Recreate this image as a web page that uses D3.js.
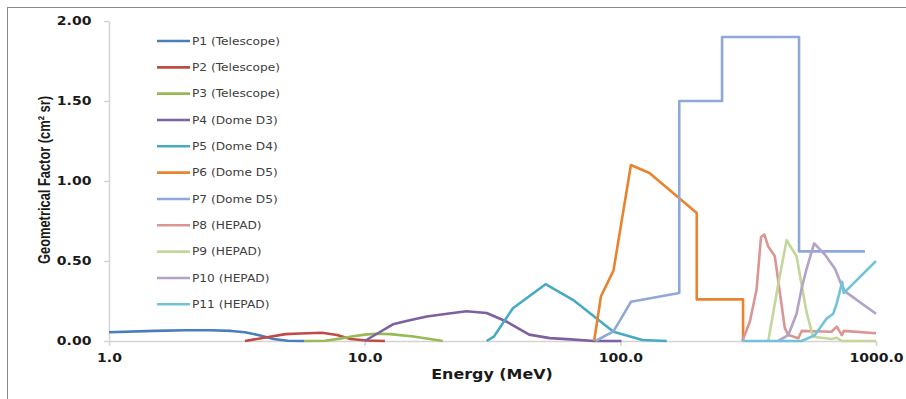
<!DOCTYPE html>
<html>
<head>
<meta charset="utf-8">
<script src="https://cdn.jsdelivr.net/npm/d3@7"></script>
<style>
  html, body { margin: 0; padding: 0; background: #ffffff; }
  svg { display: block; }
</style>
</head>
<body>
<script>
// ---------- DATA (Energy in MeV, Geometrical Factor in cm^2 sr) ----------
const seriesNames = [
  "P1 (Telescope)", "P2 (Telescope)", "P3 (Telescope)", "P4 (Dome D3)",
  "P5 (Dome D4)", "P6 (Dome D5)", "P7 (Dome D5)", "P8 (HEPAD)",
  "P9 (HEPAD)", "P10 (HEPAD)", "P11 (HEPAD)"
];
const p1 = [[1.0,0.055],[1.5,0.063],[2.0,0.067],[2.5,0.067],[3.0,0.063],[3.4,0.055],[3.9,0.035],[4.4,0.013],[5.0,0.002],[5.8,0.0]];
const p2 = [[3.4,0.0],[4.1,0.022],[4.9,0.043],[5.6,0.047],[6.8,0.052],[7.8,0.038],[8.8,0.013],[10.2,0.003],[12.0,0.0]];
const p3 = [[5.8,0.0],[7.0,0.002],[8.0,0.015],[8.9,0.028],[10.0,0.04],[11.1,0.045],[12.6,0.043],[15.5,0.028],[18.0,0.012],[20.2,0.0]];
const p4 = [[10.0,0.0],[11.3,0.05],[12.9,0.104],[15.0,0.13],[17.5,0.153],[21.0,0.17],[25.0,0.186],[30.0,0.175],[36.0,0.12],[44.0,0.04],[53.0,0.018],[64.0,0.01],[79.0,0.0],[101.0,0.0]];
const p5 = [[30.0,0.0],[32.0,0.027],[38.0,0.205],[51.0,0.355],[66.0,0.252],[94.0,0.058],[122.0,0.006],[152.0,0.0]];
const p6 = [[79,0.0],[84,0.28],[94,0.44],[110,1.1],[130,1.05],[199,0.8],[199,0.26],[302,0.26],[302,0.0]];
const p7 = [[80,0.0],[94,0.06],[110,0.245],[170,0.3],[170,1.5],[250,1.5],[250,1.9],[500,1.9],[500,0.56],[905,0.56]];
const p8 = [[300,0.0],[321,0.12],[341,0.32],[355,0.65],[366,0.665],[379,0.59],[402,0.53],[420,0.31],[440,0.08],[454,0.037],[497,0.017],[512,0.063],[670,0.058],[702,0.09],[735,0.037],[748,0.063],[1000,0.048]];
const p9 = [[379,0.0],[414,0.35],[447,0.63],[489,0.53],[512,0.35],[535,0.18],[567,0.027],[670,0.012],[702,0.02],[735,0.0],[1000,0.0]];
const p10 = [[414,0.0],[454,0.037],[489,0.17],[512,0.33],[535,0.45],[573,0.61],[631,0.54],[692,0.45],[729,0.36],[756,0.31],[1000,0.17]];
const p11 = [[300,0.0],[512,0.0],[577,0.037],[641,0.14],[680,0.17],[702,0.235],[722,0.31],[737,0.37],[748,0.30],[770,0.32],[1000,0.5]];
const seriesValues = [p1,p2,p3,p4,p5,p6,p7,p8,p9,p10,p11];
const xTickValues = [1, 10, 100, 1000];
const yTickValues = [0, 0.5, 1.0, 1.5, 2.0];
const xTitle = "Energy (MeV)";
const yTitle = "Geometrical Factor (cm² sr)";

// ---------- STYLE ----------
const colors = ["#4A7EBB","#BE4B48","#98B954","#7D60A0","#46AAC5","#E9832F",
                "#8EA9D8","#D99694","#C3D69B","#B3A2C7","#72C3DA"];
const W = 906, H = 399;
const plot = {left: 109, right: 876, top: 21, bottom: 341};
const SX = 1.17; // horizontal text stretch seen in the reference

const svg = d3.select("body").append("svg").attr("width", W).attr("height", H);

// outer frame
svg.append("rect").attr("x", 7.5).attr("y", 7.5).attr("width", 910).attr("height", 410)
  .attr("fill", "none").attr("stroke", "#8a8a8a").attr("stroke-width", 1);

const x = d3.scaleLog().domain([1, 1000]).range([plot.left, plot.right]);
const y = d3.scaleLinear().domain([0, 2]).range([plot.bottom, plot.top]);

// axes
const axisColor = "#d4d4d4";
const xAxis = svg.append("g").attr("transform", `translate(0,${plot.bottom})`)
  .call(d3.axisBottom(x).tickValues(xTickValues).tickFormat(d3.format(".1f"))
        .tickSize(5).tickSizeOuter(0).tickPadding(7));
const yAxis = svg.append("g").attr("transform", `translate(${plot.left},0)`)
  .call(d3.axisLeft(y).tickValues(yTickValues).tickFormat(d3.format(".2f"))
        .tickSize(5).tickSizeOuter(0).tickPadding(10));
[xAxis, yAxis].forEach(a => {
  a.select(".domain").attr("stroke", axisColor).attr("stroke-width", 1.5);
  a.selectAll(".tick line").attr("stroke", axisColor).attr("stroke-width", 1.5);
  a.selectAll(".tick text")
    .attr("font-family", "'DejaVu Sans', Verdana, sans-serif")
    .attr("font-weight", "bold").attr("font-size", 12).attr("fill", "#1a1a1a")
    .attr("transform", `scale(${SX},1)`);
});

// series lines
const line = d3.line().x(d => x(d[0])).y(d => y(d[1]));
seriesValues.forEach((data, i) => {
  svg.append("path").datum(data).attr("d", line)
    .attr("fill", "none").attr("stroke", colors[i]).attr("stroke-width", 2.6)
    .attr("stroke-linejoin", "round").attr("stroke-linecap", "butt");
});

// legend
const leg = svg.append("g");
seriesNames.forEach((name, i) => {
  const cy = 41 + i * 26.33;
  leg.append("line").attr("x1", 157).attr("x2", 190).attr("y1", cy).attr("y2", cy)
    .attr("stroke", colors[i]).attr("stroke-width", 2.6);
  leg.append("text").attr("transform", `translate(192,${cy}) scale(1.22,1)`)
    .attr("dy", "0.36em")
    .attr("font-family", "'DejaVu Sans', Verdana, sans-serif").attr("font-size", 10)
    .attr("fill", "#404040").text(name);
});

// axis titles
svg.append("text").attr("transform", `translate(492,379) scale(1.18,1)`)
  .attr("text-anchor", "middle")
  .attr("font-family", "'DejaVu Sans', Verdana, sans-serif").attr("font-weight", "bold")
  .attr("font-size", 13.5).attr("fill", "#1a1a1a").text(xTitle);

svg.append("text").attr("transform", `translate(44,180) scale(1.15,1) rotate(-90)`)
  .attr("text-anchor", "middle").attr("dy", "0.35em")
  .attr("textLength", 168).attr("lengthAdjust", "spacingAndGlyphs")
  .attr("font-family", "'Liberation Sans Narrow', 'Arial Narrow', 'Liberation Sans', sans-serif")
  .attr("font-weight", "bold").attr("font-size", 14).attr("fill", "#1a1a1a").text(yTitle);
</script>
</body>
</html>
